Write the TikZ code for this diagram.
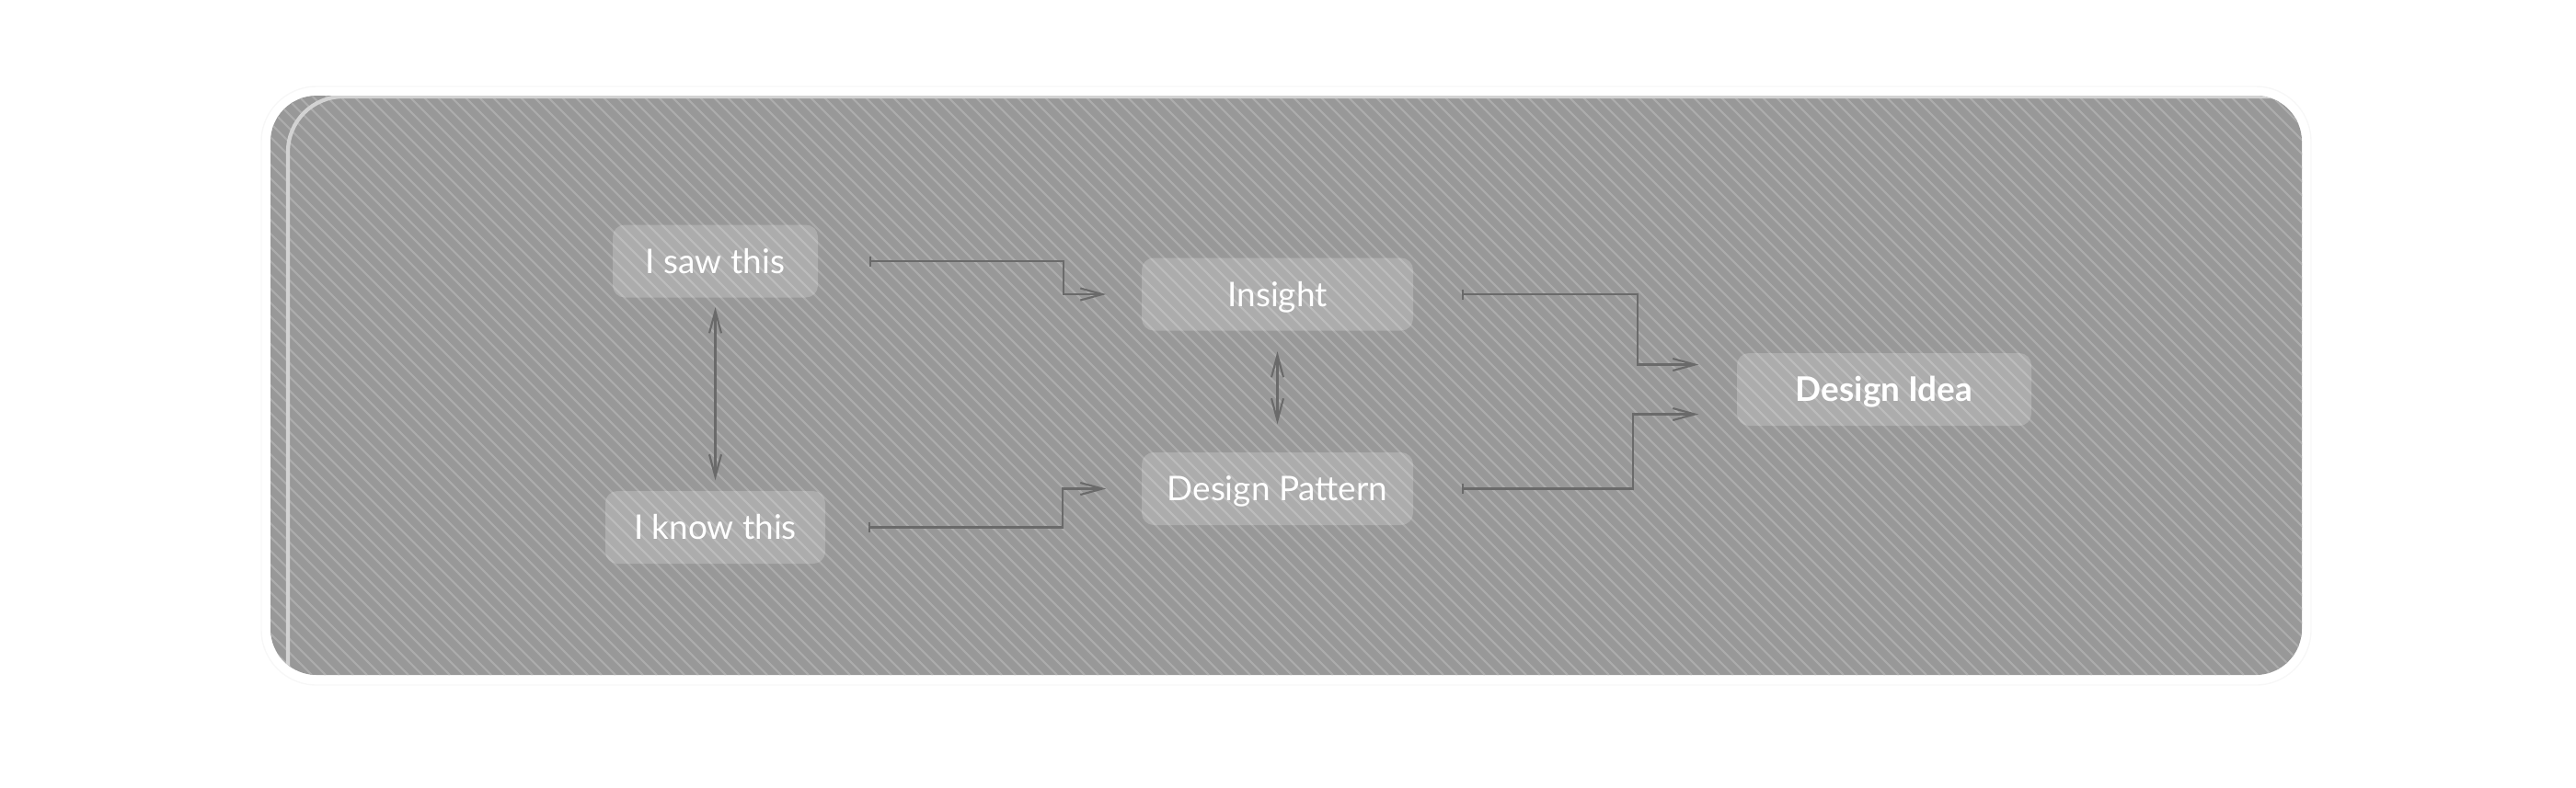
\documentclass[tikz,border=0pt]{standalone}
\usepackage{fontspec}
\setmainfont{Lato}
\usetikzlibrary{arrows.meta}
\definecolor{panelgray}{HTML}{989898}
\definecolor{stripegray}{HTML}{ACACAC}
\definecolor{linkgray}{HTML}{6A6A6A}
\definecolor{rimgray}{HTML}{D2D2D2}

\begin{document}
\begin{tikzpicture}[
            box/.style={rounded corners=0.13cm, fill=white, fill opacity=0.2, text opacity=1,
                text=white, inner sep=0pt, minimum height=0.79cm, text height=7.5pt, text depth=0pt,
                font=\fontsize{10.5}{12}\selectfont},
            link/.style={draw=linkgray, line width=0.6pt,
                {Bar[width=0.11cm]}-{Straight Barb[length=0.24cm,width=0.13cm]}},
            twoway/.style={draw=linkgray, line width=0.6pt,
                {Straight Barb[length=0.24cm,width=0.13cm]}-{Straight Barb[length=0.24cm,width=0.13cm]}}]
            \useasboundingbox (0,0) rectangle (28,-8.56);
            \draw [black!3, line width=0.4pt, rounded corners=0.6cm] (2.84,-0.94) rectangle (25.12,-7.45);
            \fill [panelgray, rounded corners=0.5cm] (2.94,-1.04) rectangle (25.02,-7.34);
            \begin{scope}
                \clip [rounded corners=0.5cm] (2.94,-1.04) rectangle (25.02,-7.34);
                \foreach \i in {0,...,195}
                    \draw [stripegray, line width=0.6pt] ({-3.36+0.15*\i},-1.04) -- ++(6.3,-6.3);
                \draw [rimgray, line width=1.2pt, rounded corners=0.6cm] (3.13,-1.05) rectangle (27,-9);
            \end{scope}
            \node [box, minimum width=2.23cm] (isaw) at (7.775,-2.84) {I saw this};
            \node [box, minimum width=2.39cm] (iknow) at (7.775,-5.735) {I know this};
            \node [box, minimum width=2.95cm] (insight) at (13.885,-3.20) {Insight};
            \node [box, minimum width=2.95cm] (pattern) at (13.885,-5.315) {Design Pattern};
            \node [box, minimum width=3.20cm, font=\fontsize{10.5}{12}\selectfont\bfseries] (idea) at (20.48,-4.235) {Design Idea};
            \draw [twoway] ([yshift=-0.10cm]isaw.south) -- ([yshift=0.11cm]iknow.north);
            \draw [twoway] ([yshift=-0.22cm]insight.south) -- ([yshift=0.30cm]pattern.north);
            \draw [link] ([xshift=0.55cm]isaw.east) -- ++(2.11,0) |- ([xshift=-0.38cm]insight.west);
            \draw [link] ([xshift=0.46cm]iknow.east) -- ++(2.11,0) |- ([xshift=-0.38cm]pattern.west);
            \draw [link] ([xshift=0.52cm]insight.east) -- ++(1.91,0) |- ([xshift=-0.41cm,yshift=0.27cm]idea.west);
            \draw [link] ([xshift=0.52cm]pattern.east) -- ++(1.86,0) |- ([xshift=-0.41cm,yshift=-0.27cm]idea.west);
        \end{tikzpicture}
\end{document}
